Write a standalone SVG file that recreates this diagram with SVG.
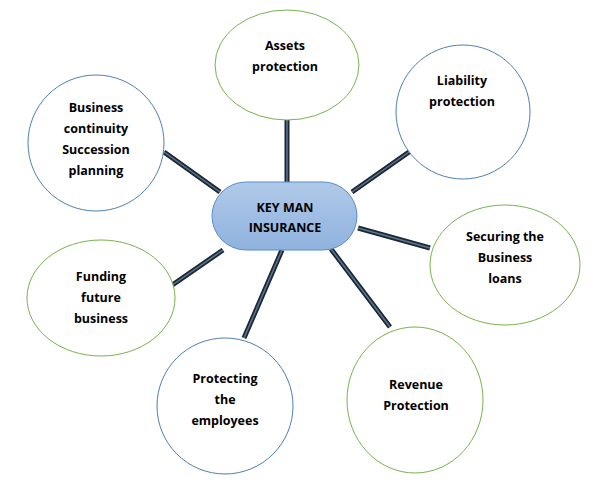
<svg xmlns="http://www.w3.org/2000/svg" width="616" height="487" viewBox="0 0 616 487">
<defs>
<linearGradient id="g" x1="0" y1="0" x2="0" y2="1"><stop offset="0" stop-color="#b0c9e8"/><stop offset="1" stop-color="#8fb2de"/></linearGradient>
</defs>
<style>
.gr{fill:#fff;stroke:#77b24d;stroke-width:1}
.bl{fill:#fff;stroke:#4f7fae;stroke-width:1}
.t{font-family:"Open Sans","Liberation Sans",sans-serif;font-weight:bold;font-size:12.5px;fill:#000;text-anchor:middle}
.o{stroke:#1e2630;stroke-width:5;fill:none}
.i{stroke:#56789a;stroke-width:1.5;fill:none}
</style>
<rect width="616" height="487" fill="#fff"/>
<g id="connectors">
<path class="o" d="M287,120V182M409,152L352,192M164,152L220,192M358,228L430,248M168,288L223,250M282,250L244,338M331,249L390,327"/>
<path class="i" d="M287,120V182M409,152L352,192M164,152L220,192M358,228L430,248M168,288L223,250M282,250L244,338M331,249L390,327"/>
</g>
<g id="center"><rect x="212" y="182" width="145" height="68" rx="34" fill="url(#g)" stroke="#5b8ccc"/>
<text class="t" x="285" y="212">KEY MAN</text><text class="t" x="285" y="232">INSURANCE</text></g>
<g id="assets"><ellipse class="gr" cx="287" cy="65" rx="72" ry="55"/><text class="t" x="285" y="50">Assets</text><text class="t" x="285" y="71">protection</text></g>
<g id="liability"><ellipse class="bl" cx="463" cy="112" rx="67" ry="67"/><text class="t" x="462" y="85">Liability</text><text class="t" x="462" y="106">protection</text></g>
<g id="business"><ellipse class="bl" cx="96" cy="143" rx="68" ry="68"/><text class="t" x="96" y="112">Business</text><text class="t" x="96" y="133">continuity</text><text class="t" x="96" y="154">Succession</text><text class="t" x="96" y="175">planning</text></g>
<g id="securing"><ellipse class="gr" cx="505" cy="265" rx="75" ry="60"/><text class="t" x="505" y="241">Securing the</text><text class="t" x="505" y="262">Business</text><text class="t" x="505" y="283">loans</text></g>
<g id="funding"><ellipse class="gr" cx="101" cy="298" rx="74" ry="58"/><text class="t" x="101" y="281">Funding</text><text class="t" x="101" y="302">future</text><text class="t" x="101" y="323">business</text></g>
<g id="protecting"><ellipse class="bl" cx="225" cy="406" rx="68" ry="68"/><text class="t" x="225" y="383">Protecting</text><text class="t" x="225" y="404">the</text><text class="t" x="225" y="425">employees</text></g>
<g id="revenue"><ellipse class="gr" cx="415" cy="400" rx="68" ry="73"/><text class="t" x="416" y="389">Revenue</text><text class="t" x="416" y="410">Protection</text></g>
</svg>
